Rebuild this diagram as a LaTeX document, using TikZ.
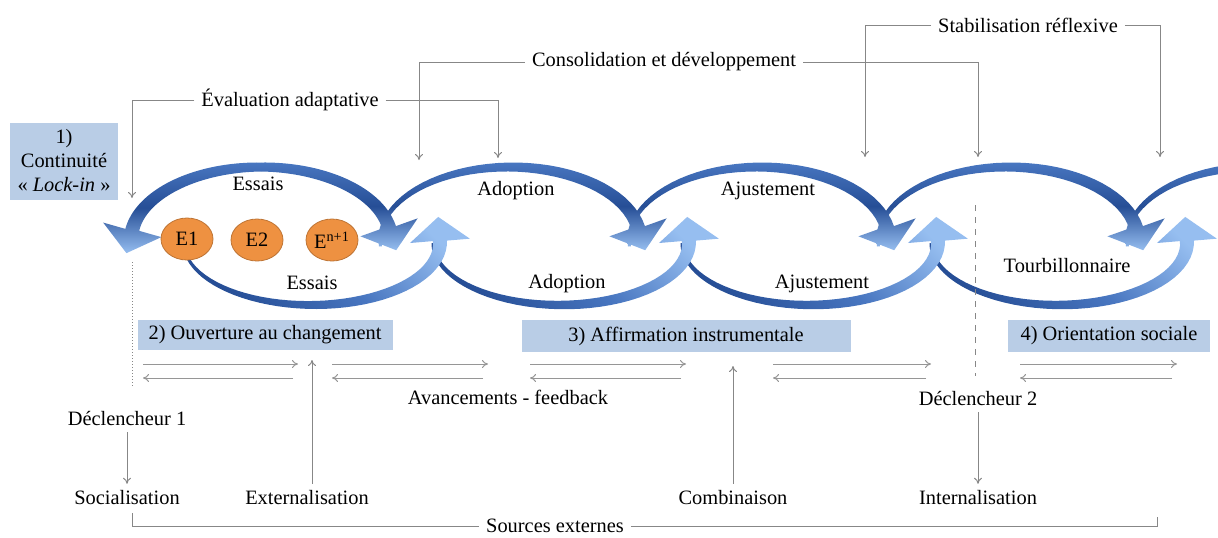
\documentclass[tikz,border=0pt]{standalone}
\usepackage{fontspec}
\setmainfont{Liberation Serif}
\usetikzlibrary{arrows.meta,calc,shapes.geometric}

\definecolor{arcdark}{RGB}{38,78,150}
\definecolor{arcmid}{RGB}{72,118,192}
\definecolor{arclight}{RGB}{150,190,240}
\definecolor{boxblue}{RGB}{185,205,230}
\definecolor{eorange}{RGB}{238,145,65}
\definecolor{linegray}{RGB}{135,135,135}
\definecolor{flowgray}{RGB}{150,150,150}

% tapered curved arrow: cx cy rx ry start end dir tailwidth shading
\newcommand{\bandarrow}[9]{%
  \begin{scope}[declare function={hw(\t)=0.5*(#8+(14-#8)*(\t-(#5))/((#6)-(#5)));}]
  \pgfmathsetmacro\bx{#1+#3*cos(#6)}%
  \pgfmathsetmacro\by{#2-#4*sin(#6)}%
  \pgfmathsetmacro\da{atan2(-(#7)*#4*cos(#6),-(#7)*#3*sin(#6))}%
  \pgfmathsetmacro\oa{\da+(#7)*90}%
  \pgfmathsetmacro\ia{\oa+180}%
  \shade[#9] plot[domain=#5:#6, samples=40, variable=\t]
      ({#1+(#3+hw(\t))*cos(\t)},{#2-(#4+hw(\t))*sin(\t)})
    -- ($(\bx,\by)+(\oa:30)$) -- ($(\bx,\by)+(\da:24)$)
    -- ($(\bx,\by)+(\ia:30)$)
    -- plot[domain=#6:#5, samples=40, variable=\t]
      ({#1+(#3-hw(\t))*cos(\t)},{#2-(#4-hw(\t))*sin(\t)})
    -- cycle;
  \end{scope}}

\begin{document}
\begin{tikzpicture}[x=0.5pt, y=-0.5pt,
    every node/.style={font=\fontsize{10.2}{12}\selectfont},
    phase/.style={fill=boxblue, inner sep=2pt, align=center},
    essai/.style={ellipse, fill=eorange, draw=eorange!80!black,
      line width=0.4pt, minimum width=26pt, minimum height=21pt, inner sep=0pt},
    link/.style={draw=linegray, line width=0.5pt},
    linkarrow/.style={-{To[length=3pt,width=4pt]}},
    flow/.style={draw=flowgray, line width=0.5pt, -{To[length=3pt,width=4pt]}},
    toparc/.style={top color=arcmid, bottom color=arclight, middle color=arcdark},
    botarc/.style={top color=arclight, bottom color=arcdark, middle color=arcmid,
      shading angle=-45}
  ]
  \useasboundingbox (0,0) rectangle (1218,537);
  \clip (0,0) rectangle (1218,537);

  % chain of loops, drawn right to left
  \bandarrow{1257}{240}{130}{73}{185}{10}{-1}{3}{toparc}
  \foreach \k in {4,3,2} {
    \pgfmathsetmacro\tx{261+249*(\k-1)}
    \pgfmathsetmacro\bxc{312+249*(\k-1)}
    \bandarrow{\tx}{240}{130}{73}{185}{10}{-1}{3}{toparc}
    \bandarrow{\bxc}{243}{128}{62}{180}{362}{1}{3}{botarc}
  }
  \bandarrow{261}{240}{130}{73}{90}{10}{-1}{9}{toparc}
  \bandarrow{261}{240}{130}{73}{90}{172}{1}{9}{toparc}
  \bandarrow{312}{243}{128}{62}{195}{362}{1}{3}{botarc}

  \node[essai] (e1) at (187,239) {E1};
  \node[essai] (e2) at (257,240) {E2};
  \node[essai] (en) at (332,240) {E\textsuperscript{n+1}};

  \node (essaisH) at (258,184) {Essais};
  \node (essaisB) at (312,283) {Essais};
  \node (adoptH) at (516,191) {Adoption};
  \node (adoptB) at (567,284) {Adoption};
  \node (ajustH) at (768,191) {Ajustement};
  \node (ajustB) at (822,284) {Ajustement};
  \node (tourb) at (1067,266) {Tourbillonnaire};

  % phases
  \node[phase, minimum width=54pt, minimum height=38.5pt] (lockin) at (64,161)
    {1)\\Continuité\\« \textit{Lock-in} »};
  \node[phase, minimum width=127.5pt, minimum height=15pt] (ouverture) at (265,335)
    {2) Ouverture au changement};
  \node[phase, minimum width=164.5pt, minimum height=16pt] (affirmation) at (686,336)
    {3) Affirmation instrumentale};
  \node[phase, minimum width=101pt, minimum height=16pt] (orientation) at (1109,336)
    {4) Orientation sociale};

  % top feedback brackets
  \node (eval) at (290,100) {Évaluation adaptative};
  \node (conso) at (664,62) {Consolidation et développement};
  \node (stab) at (1028,25) {Stabilisation réflexive};
  \coordinate (evalL) at (132,198);
  \coordinate (evalR) at (498,158);
  \coordinate (consoL) at (419,160);
  \coordinate (consoR) at (978,157);
  \coordinate (stabL) at (865,157);
  \coordinate (stabR) at (1160,157);
  \draw[link, linkarrow] (eval.west) -| (evalL);
  \draw[link, linkarrow] (eval.east) -| (evalR);
  \draw[link, linkarrow] (conso.west) -| (consoL);
  \draw[link, linkarrow] (conso.east) -| (consoR);
  \draw[link, linkarrow] (stab.west) -| (stabL);
  \draw[link, linkarrow] (stab.east) -| (stabR);

  % separators
  \draw[link, densely dotted] (132,262) -- (132,387);
  \draw[link, dashed] (975,205) -- (975,376);

  % progress and feedback
  \foreach \a/\b [count=\i] in {143/298, 332/488, 530/686, 773/931, 1020/1177} {
    \coordinate (fw\i) at (\a,364);
    \coordinate (fe\i) at (\b,364);
    \coordinate (bw\i) at (\a,378);
    \coordinate (be\i) at (\b-5,378);
    \draw[flow] (fw\i) -- (fe\i);
    \draw[flow] (be\i) -- (bw\i);
  }

  \node (feedback) at (508,397) {Avancements - feedback};
  \node (decl1) at (127,418) {Déclencheur 1};
  \node (decl2) at (978,398) {Déclencheur 2};
  \node (social) at (127,498) {Socialisation};
  \node (extern) at (307,498) {Externalisation};
  \node (combin) at (733,498) {Combinaison};
  \node (intern) at (978,498) {Internalisation};
  \node (sources) at (555,526) {Sources externes};

  \coordinate (externTip) at (312,360);
  \coordinate (combinTip) at (733,366);
  \draw[link, linkarrow] (decl1) -- (social);
  \draw[link, linkarrow] (decl2) -- (intern);
  \draw[link, linkarrow] (extern.north -| externTip) -- (externTip);
  \draw[link, linkarrow] (combin.north) -- (combinTip);

  \coordinate (srcL) at (132,513);
  \coordinate (srcR) at (1157,517);
  \draw[link] (sources.west) -| (srcL);
  \draw[link] (sources.east) -| (srcR);
\end{tikzpicture}
\end{document}
